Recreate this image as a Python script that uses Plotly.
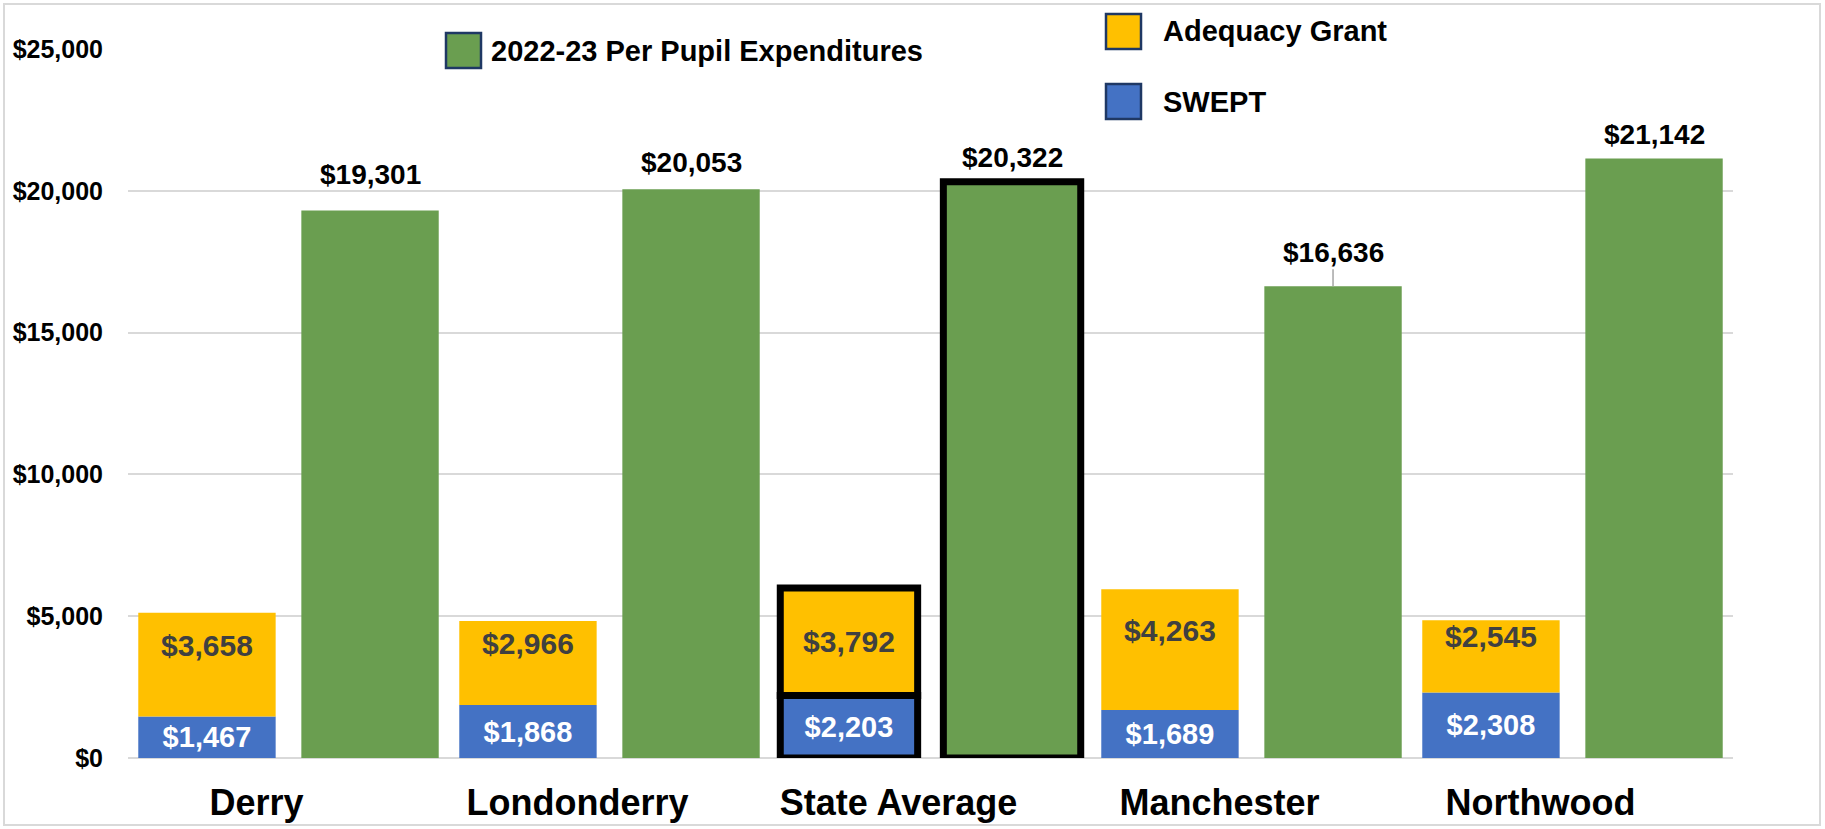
import plotly.graph_objects as go

# ---- data ----
categories = ["Derry", "Londonderry", "State Average", "Manchester", "Northwood"]
swept = [1467, 1868, 2203, 1689, 2308]
adequacy = [3658, 2966, 3792, 4263, 2545]
per_pupil = [19301, 20053, 20322, 16636, 21142]
y_ticks = [0, 5000, 10000, 15000, 20000, 25000]
highlight = "State Average"
legend_labels = ["2022-23 Per Pupil Expenditures", "Adequacy Grant", "SWEPT"]

# ---- style / layout constants ----
W, H = 1825, 829
ML, MR, MT, MB = 128, 92, 49, 71
PW = W - ML - MR
PH = H - MT - MB

GREEN = "#6A9E50"
YELLOW = "#FFC000"
BLUE = "#4472C4"
NAVY = "#1F3864"
GRID = "#D9D9D9"
FONT = "Liberation Sans"

BAR_W = 0.428
STACK_OFF = -0.468
GREEN_OFF = 0.040
HL_LINE = 7
LABEL_LIFT_PX = [36, 27, 24, 34, 24]


def px(x):
    return (x - ML) / PW


def py(y):
    return (H - MB - y) / PH


hl = [c == highlight for c in categories]
line_w = [HL_LINE if h else 0 for h in hl]

fig = go.Figure()

fig.add_bar(
    x=categories, y=swept, name=legend_labels[2], width=BAR_W, offset=STACK_OFF,
    marker=dict(color=BLUE, line=dict(color="black", width=line_w)),
    text=[f"${v:,}" for v in swept], textposition="inside", insidetextanchor="middle",
    textangle=0, constraintext="none",
    textfont=dict(family=FONT, size=29, color="white", weight="bold"),
    hoverinfo="skip",
)
# trailing blank line lifts most labels slightly above the segment centre (as in the source)
adequacy_text = [f"${v:,}" if h else f"${v:,}<br> " for v, h in zip(adequacy, hl)]
fig.add_bar(
    x=categories, y=adequacy, base=swept, name=legend_labels[1], width=BAR_W, offset=STACK_OFF,
    marker=dict(color=YELLOW, line=dict(color="black", width=line_w)),
    text=adequacy_text, textposition="inside", insidetextanchor="middle",
    textangle=0, constraintext="none",
    textfont=dict(family=FONT, size=30, color="#404040", weight="bold"),
    hoverinfo="skip",
)
fig.add_bar(
    x=categories, y=per_pupil, name=legend_labels[0], width=BAR_W, offset=GREEN_OFF,
    marker=dict(color=GREEN, line=dict(color="black", width=line_w)),
    hoverinfo="skip",
)

annotations = []
for i, v in enumerate(per_pupil):
    annotations.append(dict(
        x=i + GREEN_OFF + BAR_W / 2, y=v, xref="x", yref="y",
        text=f"${v:,}", showarrow=True, arrowhead=0, ax=0, ay=-LABEL_LIFT_PX[i],
        arrowcolor="#A6A6A6" if categories[i] == "Manchester" else "rgba(0,0,0,0)",
        arrowwidth=1.5, standoff=0,
        font=dict(family=FONT, size=28, color="black", weight="bold"),
    ))

# custom legend (large swatches)
shapes = []
legend_items = [
    (legend_labels[0], GREEN, 446, 33),
    (legend_labels[1], YELLOW, 1106, 14),
    (legend_labels[2], BLUE, 1106, 84),
]
SW = 35
for label, col, lx, ly in legend_items:
    shapes.append(dict(type="rect", xref="paper", yref="paper",
                       x0=px(lx), x1=px(lx + SW), y0=py(ly + SW), y1=py(ly),
                       fillcolor=col, line=dict(color=NAVY, width=2.5), layer="above"))
    gap = 8 if col == GREEN else 20
    annotations.append(dict(xref="paper", yref="paper", x=px(lx + SW + gap), y=py(ly + SW / 2),
                            xanchor="left", yanchor="middle", showarrow=False, text=label,
                            font=dict(family=FONT, size=29, color="black", weight="bold")))

# outer chart border
shapes.append(dict(type="rect", xref="paper", yref="paper",
                   x0=px(4), x1=px(1820), y0=py(825), y1=py(4),
                   line=dict(color=GRID, width=2), fillcolor="rgba(0,0,0,0)", layer="below"))

fig.update_layout(
    width=W, height=H,
    margin=dict(l=ML, r=MR, t=MT, b=MB, autoexpand=False),
    barmode="overlay",
    showlegend=False,
    plot_bgcolor="white", paper_bgcolor="white",
    shapes=shapes, annotations=annotations,
    xaxis=dict(type="category", range=[-0.5, len(categories) - 0.5], automargin=False,
               showgrid=False, showline=False, zeroline=False,
               tickfont=dict(family=FONT, size=36, color="black", weight="bold"),
               ticklabelshift=-32, ticklabelstandoff=20, ticks=""),
    yaxis=dict(range=[0, 25000], tickvals=y_ticks, tickformat="$,.0f", automargin=False,
               showgrid=True, gridcolor=GRID, gridwidth=2,
               zeroline=True, zerolinecolor=GRID, zerolinewidth=2, showline=False,
               tickfont=dict(family=FONT, size=25, color="black", weight="bold"),
               ticklabelstandoff=24, ticks=""),
)

fig.write_html("out.html")
